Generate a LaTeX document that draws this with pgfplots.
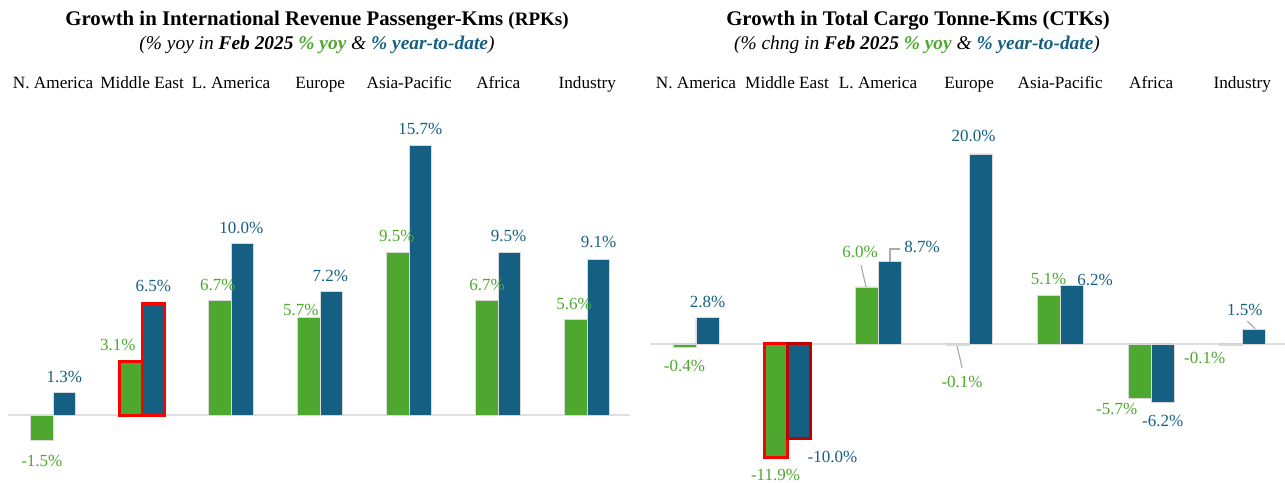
\documentclass[border=0pt]{standalone}
\usepackage{pgfplots}
\pgfplotsset{compat=1.18}
\usepackage{pgfplotstable}
\usepackage{fontspec}
\setmainfont{Liberation Serif}

\definecolor{yoy}{HTML}{4EA72E}
\definecolor{ytd}{HTML}{156082}
\definecolor{darkred}{HTML}{C00000}

% dx, dy: label centre relative to the bar end, in image pixels
\pgfplotstableread{
x y dx dy
0 -1.5 0 -20
1 3.1 -13 17
2 6.7 -2 15
3 5.7 -8 7
4 9.5 -1 16
5 6.7 0 15
6 5.6 -2 15
}\rpkyoy
\pgfplotstableread{
x y dx dy
0 1.3 0 16
1 6.5 0 18
2 10.0 -1 16
3 7.2 -1 16
4 15.7 0 17
5 9.5 -1 16
6 9.1 0 17
}\rpkytd
\pgfplotstableread{
x y dx dy
0 -0.4 0 -18
1 -11.9 0 -18
2 6.0 -6.5 35
3 -0.1 4.5 -37
4 5.1 0 17
5 -5.7 -23 -11
6 -0.1 -26 -13
}\ctkyoy
\pgfplotstableread{
x y dx dy
0 2.8 0 15
1 -10.0 34 -18
2 8.7 32.5 14
3 20.0 -7 18
4 6.2 23.5 5
5 -6.2 0 -18
6 1.5 -9 20
}\ctkytd

\pgfplotsset{
  panel/.style={
    scale only axis, height=191pt, anchor=south west,
    axis line style={draw=none}, tick style={draw=none},
    ytick=\empty, xtick={0,...,6},
    xticklabels={N. America, Middle East, L. America, Europe, Asia-Pacific, Africa, Industry},
    xticklabel pos=upper,
    xticklabel style={font=\fontsize{8.6}{10}\selectfont, anchor=base, yshift=5.5pt},
    clip=false,
    /pgf/number format/assume math mode=true,
  },
  bars/.style={ybar, bar width=#1, draw=gray!30, line width=0.4pt},
  % #1 colour, #2 bar shift (the labels do not follow it by themselves)
  lbl/.style 2 args={
    nodes near coords={\pgfmathprintnumber[fixed,fixed zerofill,precision=1]{\pgfplotspointmeta}\%},
    visualization depends on={\thisrow{dx} \as \dx},
    visualization depends on={\thisrow{dy} \as \dy},
    every node near coord/.append style={font=\fontsize{8.5}{10}\selectfont,
      text=#1, anchor=center, inner sep=0pt,
      xshift={\dx*0.5pt+#2}, yshift={\dy*0.5pt}},
  },
  hilite/.style={draw=#1, line width=1.5pt, restrict x to domain=0.9:1.1},
  zeroline/.style={gray!25, line width=1pt, forget plot},
  leader/.style={gray!65, line width=0.6pt, forget plot},
}

\begin{document}
\begin{tikzpicture}
\useasboundingbox (0,0) rectangle (642.5pt,241pt);

% ---- RPKs ----
\node[font=\fontsize{10.4}{12}\selectfont\bfseries] at (158.5pt,230.5pt)
  {Growth in International Revenue Passenger-Kms {\fontsize{9.5}{11}\selectfont(RPKs)}};
\node[font=\fontsize{9.7}{12}\selectfont\itshape] at (158.5pt,218.5pt)
  {(\% yoy in \textbf{Feb 2025} \textcolor{yoy}{\textbf{\% yoy}} \& \textcolor{ytd}{\textbf{\% year-to-date}})};

\begin{axis}[panel, at={(4pt,0pt)}, width=311pt,
  xmin=-0.506, xmax=6.48, ymin=-3.9, ymax=18.37]
\addplot[zeroline] coordinates {(-0.506,0) (6.48,0)};
\addplot[bars=11.25pt, bar shift=-5.625pt, fill=yoy, lbl={yoy}{-5.625pt}] table[x=x,y=y] {\rpkyoy};
\addplot[bars=11.25pt, bar shift=5.625pt, fill=ytd, lbl={ytd}{5.625pt}] table[x=x,y=y] {\rpkytd};
% Middle East highlight
\addplot[bars=11.25pt, bar shift=-5.625pt, fill=yoy, hilite=red] table[x=x,y=y] {\rpkyoy};
\addplot[bars=11.25pt, bar shift=5.625pt, fill=ytd, hilite=red] table[x=x,y=y] {\rpkytd};
\end{axis}

% ---- CTKs ----
\node[font=\fontsize{10.4}{12}\selectfont\bfseries] at (459pt,230.5pt)
  {Growth in Total Cargo Tonne-Kms (CTKs)};
\node[font=\fontsize{9.7}{12}\selectfont\itshape] at (458.5pt,218.5pt)
  {(\% chng in \textbf{Feb 2025} \textcolor{yoy}{\textbf{\% yoy}} \& \textcolor{ytd}{\textbf{\% year-to-date}})};

\begin{axis}[panel, at={(325pt,0pt)}, width=317.5pt,
  xmin=-0.505, xmax=6.47, ymin=-14.53, ymax=25.68]
\addplot[zeroline] coordinates {(-0.505,0) (6.47,0)};
\addplot[bars=11.5pt, bar shift=-5.75pt, fill=yoy, lbl={yoy}{-5.75pt}] table[x=x,y=y] {\ctkyoy};
\addplot[bars=11.5pt, bar shift=5.75pt, fill=ytd, lbl={ytd}{5.75pt}] table[x=x,y=y] {\ctkytd};
% Middle East highlight
\addplot[bars=11.5pt, bar shift=-5.75pt, fill=yoy, hilite=red] table[x=x,y=y] {\ctkyoy};
\addplot[bars=11.5pt, bar shift=5.75pt, fill=ytd, hilite=darkred] table[x=x,y=y] {\ctkytd};
% leader lines
\addplot[leader] coordinates {(1.868,6.0) (1.813,8.3)};
\addplot[leader] coordinates {(2.132,8.63) (2.132,10.0) (2.242,10.0)};
\addplot[leader] coordinates {(2.868,-0.2) (2.923,-2.5)};
\addplot[leader] coordinates {(6.143,1.6) (6.055,2.4)};
\end{axis}
\end{tikzpicture}
\end{document}
